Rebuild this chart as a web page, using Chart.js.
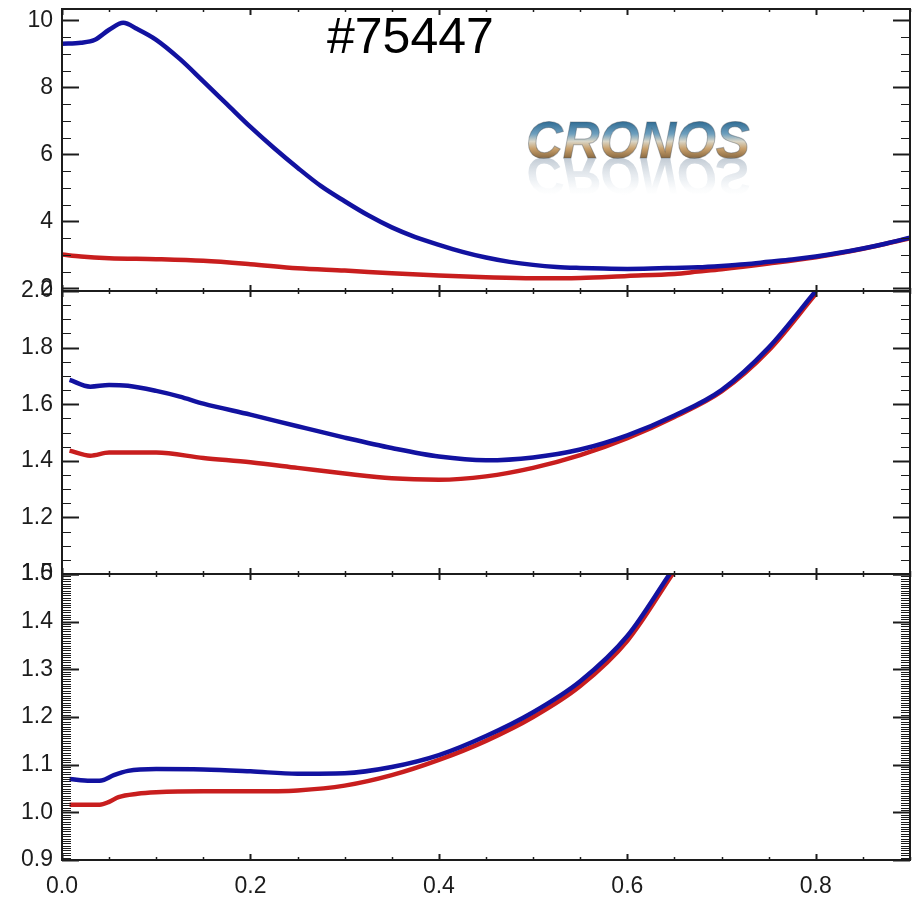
<!DOCTYPE html>
<html>
<head>
<meta charset="utf-8">
<title>#75447</title>
<script src="https://cdn.jsdelivr.net/npm/chart.js@4.4.1/dist/chart.umd.min.js"></script>
<style>
  html, body { margin: 0; padding: 0; background: #fff; }
  #wrap { position: relative; width: 919px; height: 897px; }
</style>
</head>
<body>
<div id="wrap"><canvas id="profiles" width="919" height="897"></canvas></div>
<script>
// ---- data ----
const X_TICKS = [0, 0.2, 0.4, 0.6, 0.8];

// top panel
const P1_TICKS = [2, 4, 6, 8, 10];
const p1X    = [0, 0.02, 0.035, 0.05, 0.065, 0.08, 0.1, 0.125, 0.15, 0.175, 0.2, 0.225, 0.25, 0.275, 0.3, 0.325, 0.35, 0.375, 0.4, 0.425, 0.45, 0.475, 0.5, 0.525, 0.55, 0.575, 0.6, 0.625, 0.65, 0.675, 0.7, 0.725, 0.75, 0.775, 0.8, 0.825, 0.85, 0.875, 0.9];
const p1Blue = [9.30, 9.33, 9.42, 9.72, 9.93, 9.74, 9.42, 8.85, 8.18, 7.50, 6.82, 6.19, 5.60, 5.05, 4.60, 4.18, 3.82, 3.53, 3.30, 3.09, 2.92, 2.79, 2.70, 2.64, 2.61, 2.59, 2.58, 2.59, 2.61, 2.63, 2.67, 2.72, 2.79, 2.86, 2.95, 3.06, 3.19, 3.34, 3.51];
const p1RedX = [0, 0.02, 0.05, 0.1, 0.15, 0.2, 0.25, 0.3, 0.35, 0.4, 0.45, 0.5, 0.55, 0.6, 0.65, 0.675, 0.7, 0.75, 0.8, 0.85, 0.9];
const p1Red  = [3.01, 2.95, 2.90, 2.87, 2.82, 2.72, 2.60, 2.53, 2.45, 2.38, 2.33, 2.30, 2.31, 2.37, 2.43, 2.50, 2.57, 2.74, 2.93, 3.18, 3.50];

// middle panel
const P2_TICKS = [1.0, 1.2, 1.4, 1.6, 1.8, 2.0];
const p2X    = [0.008, 0.03, 0.05, 0.07, 0.1, 0.125, 0.15, 0.2, 0.25, 0.3, 0.35, 0.4, 0.45, 0.5, 0.55, 0.6, 0.65, 0.7, 0.75, 0.8];
const p2Blue = [1.686, 1.662, 1.668, 1.665, 1.647, 1.627, 1.602, 1.563, 1.522, 1.482, 1.445, 1.415, 1.402, 1.412, 1.440, 1.490, 1.560, 1.650, 1.800, 2.000];
const p2RedX = [0.008, 0.03, 0.05, 0.1, 0.15, 0.2, 0.25, 0.3, 0.35, 0.4, 0.45, 0.5, 0.55, 0.6, 0.65, 0.7, 0.75, 0.8];
const p2Red  = [1.436, 1.418, 1.429, 1.429, 1.410, 1.395, 1.375, 1.355, 1.338, 1.333, 1.345, 1.375, 1.420, 1.480, 1.555, 1.645, 1.790, 1.990];

// bottom panel
const P3_TICKS = [0.9, 1.0, 1.1, 1.2, 1.3, 1.4, 1.5];
const p3X    = [0.008, 0.03, 0.042, 0.055, 0.07, 0.1, 0.15, 0.2, 0.25, 0.3, 0.35, 0.4, 0.45, 0.5, 0.55, 0.6, 0.645];
const p3Blue = [1.070, 1.066, 1.067, 1.078, 1.087, 1.091, 1.090, 1.086, 1.081, 1.082, 1.095, 1.120, 1.160, 1.210, 1.275, 1.370, 1.500];
const p3RedX = [0.008, 0.04, 0.05, 0.06, 0.08, 0.1, 0.15, 0.2, 0.25, 0.3, 0.35, 0.4, 0.45, 0.5, 0.55, 0.6, 0.648];
const p3Red  = [1.016, 1.016, 1.022, 1.032, 1.039, 1.042, 1.044, 1.044, 1.046, 1.056, 1.078, 1.110, 1.150, 1.200, 1.265, 1.360, 1.500];

const BLUE = '#1212a0';
const RED = '#c81e1e';
const INK = '#1c1c1c';
const FONT = '"Liberation Sans", Arial, sans-serif';

function pts(xs, ys) {
  return xs.map((x, i) => ({ x: x, y: ys[i] }));
}

function series(xs, ys, color, axis, order) {
  return {
    data: pts(xs, ys),
    yAxisID: axis,
    borderColor: color,
    borderWidth: 4.5,
    pointRadius: 0,
    fill: false,
    cubicInterpolationMode: 'monotone',
    order: order
  };
}

function yAxis(min, max, ticks, digits, weight) {
  return {
    type: 'linear',
    position: 'left',
    stack: 'panels',
    stackWeight: weight,
    min: min,
    max: max,
    grid: { display: false, drawTicks: false },
    border: { display: false },
    afterBuildTicks: s => { s.ticks = ticks.map(v => ({ value: v })); },
    afterFit: s => { s.width = 62; s.paddingTop = 0; s.paddingBottom = 0; },
    ticks: {
      autoSkip: false,
      padding: 9,
      color: INK,
      font: { family: FONT, size: 23 },
      callback: v => digits ? v.toFixed(digits) : String(v)
    }
  };
}

// minor/major tick runs for the IDL-style frame
function tickRun(min, max, step) {
  const out = [];
  const n0 = Math.ceil(min / step - 1e-6), n1 = Math.floor(max / step + 1e-6);
  for (let n = n0; n <= n1; n++) out.push(+(n * step).toFixed(4));
  return out;
}

const panels = [
  { id: 'y1', major: P1_TICKS, minor: 0.5 },
  { id: 'y2', major: P2_TICKS, minor: 0.05 },
  { id: 'y3', major: P3_TICKS, minor: 0.005 }
];

const framePlugin = {
  id: 'frame',
  afterDatasetsDraw(chart) {
    const { ctx, chartArea: a, scales } = chart;
    const xs = scales.x;
    const seg = (x1, y1, x2, y2) => { ctx.beginPath(); ctx.moveTo(x1, y1); ctx.lineTo(x2, y2); ctx.stroke(); };
    ctx.save();
    ctx.strokeStyle = INK;
    panels.forEach(p => {
      const s = scales[p.id];
      tickRun(s.min, s.max, p.minor).forEach(v => {
        const y = Math.round(s.getPixelForValue(v)) + 0.5;
        const major = p.major.some(m => Math.abs(m - v) < 1e-6);
        const len = major ? 17 : 9;
        ctx.lineWidth = major ? 2 : 1;
        seg(a.left, y, a.left + len, y);
        seg(a.right, y, a.right - len, y);
      });
      tickRun(0, 0.9, 0.05).forEach(v => {
        const x = Math.round(xs.getPixelForValue(v)) + 0.5;
        const major = X_TICKS.some(m => Math.abs(m - v) < 1e-6);
        const len = major ? 6 : 3;
        ctx.lineWidth = major ? 2 : 1.5;
        seg(x, s.top, x, s.top + len);
        seg(x, s.bottom, x, s.bottom - len);
      });
      ctx.lineWidth = 2;
      ctx.strokeRect(a.left, s.top, a.right - a.left, s.bottom - s.top);
    });
    ctx.restore();
  },
  afterDraw(chart) {
    const ctx = chart.ctx;
    ctx.save();
    // shot number
    ctx.fillStyle = '#000';
    ctx.font = '50px ' + FONT;
    ctx.textBaseline = 'alphabetic';
    ctx.fillText('#75447', 327, 53);

    // CRONOS logo with reflection
    const lx = 526, base = 158;
    ctx.font = 'italic bold 51px ' + FONT;
    const g = ctx.createLinearGradient(0, base - 37, 0, base);
    g.addColorStop(0, '#2d6a92');
    g.addColorStop(0.35, '#6d9fbe');
    g.addColorStop(0.55, '#d9d6c8');
    g.addColorStop(0.75, '#c8a06c');
    g.addColorStop(1, '#8a6a42');
    ctx.fillStyle = g;
    ctx.fillText('CRONOS', lx, base);
    ctx.strokeStyle = 'rgba(70,80,90,0.4)';
    ctx.lineWidth = 1;
    ctx.strokeText('CRONOS', lx, base);

    ctx.translate(0, base * 2);
    ctx.scale(1, -1);
    const r = ctx.createLinearGradient(0, base, 0, base - 40);
    r.addColorStop(0, 'rgba(120,140,160,0.45)');
    r.addColorStop(0.6, 'rgba(180,195,210,0.2)');
    r.addColorStop(1, 'rgba(255,255,255,0)');
    ctx.fillStyle = r;
    ctx.fillText('CRONOS', lx, base);
    ctx.restore();
  }
};

new Chart(document.getElementById('profiles'), {
  type: 'line',
  data: {
    datasets: [
      series(p1X, p1Blue, BLUE, 'y1', 1),
      series(p1RedX, p1Red, RED, 'y1', 2),
      series(p2X, p2Blue, BLUE, 'y2', 1),
      series(p2RedX, p2Red, RED, 'y2', 2),
      series(p3X, p3Blue, BLUE, 'y3', 1),
      series(p3RedX, p3Red, RED, 'y3', 2)
    ]
  },
  options: {
    responsive: false,
    animation: false,
    events: [],
    layout: { padding: { top: 9, right: 9, left: 0, bottom: 0 } },
    plugins: {
      legend: { display: false },
      tooltip: { enabled: false }
    },
    scales: {
      x: {
        type: 'linear',
        min: 0,
        max: 0.9,
        grid: { display: false, drawTicks: false },
        border: { display: false },
        afterBuildTicks: s => { s.ticks = X_TICKS.map(v => ({ value: v })); },
        afterFit: s => { s.height = 37; },
        ticks: {
          autoSkip: false,
          maxRotation: 0,
          padding: 13,
          color: INK,
          font: { family: FONT, size: 23 },
          callback: v => v.toFixed(1)
        }
      },
      // stacked axes are laid out bottom-up, so the bottom panel comes first
      y3: yAxis(0.9, 1.5, P3_TICKS, 1, 286),
      y2: yAxis(1.0, 2.0, P2_TICKS, 1, 283),
      y1: yAxis(1.92, 10.34, P1_TICKS, 0, 282)
    }
  },
  plugins: [framePlugin]
});
</script>
</body>
</html>
